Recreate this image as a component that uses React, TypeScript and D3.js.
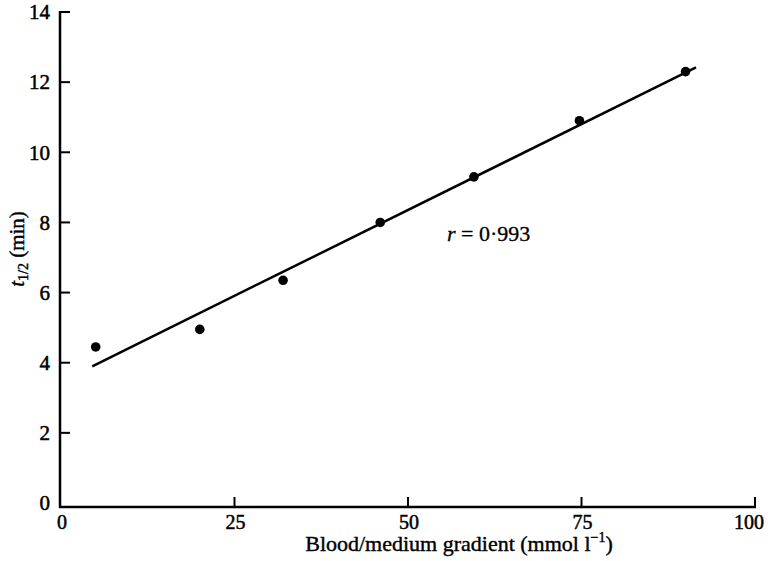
import { scaleLinear, line as d3line, mean, sum } from "d3";

const gradient = [5, 20, 32, 46, 59.5, 74.7, 90];
const halfTime = [4.45, 4.95, 6.35, 8.0, 9.3, 10.9, 12.3];
const xTicks = [0, 25, 50, 75, 100];
const yTicks = [0, 2, 4, 6, 8, 10, 12, 14];
const fitRange = [4.5, 91.5];
const rLabel = "r = 0·993";

const W = 768;
const H = 561;
const font = "'Liberation Serif', 'DejaVu Serif', serif";

export default function App() {
  const x = scaleLinear().domain([0, 100]).range([61, 755]);
  const y = scaleLinear().domain([0, 14]).range([503, 12]);

  // least squares fit through the points
  const mx = mean(gradient) ?? 0;
  const my = mean(halfTime) ?? 0;
  const sxy = sum(gradient.map((g, i) => (g - mx) * (halfTime[i] - my)));
  const sxx = sum(gradient.map((g) => (g - mx) ** 2));
  const slope = sxy / sxx;
  const icpt = my - slope * mx;
  const fit = d3line<number>()
    .x((d) => x(d))
    .y((d) => y(icpt + slope * d));

  const axisY = 507;
  const axisX = 60;
  const last = xTicks[xTicks.length - 1];

  return (
    <svg
      width={W}
      height={H}
      style={{ position: "absolute", left: 0, top: 0, background: "#fff", fontFamily: font }}
    >
      {/* axes */}
      <line x1={axisX} x2={axisX} y1={y(14) - 1} y2={axisY + 1} stroke="#000" strokeWidth={2.5} />
      <line x1={axisX - 1} x2={x(last) + 1} y1={axisY} y2={axisY} stroke="#000" strokeWidth={2.5} />

      {yTicks.map((t) => (
        <g key={t}>
          {t > 0 && (
            <line x1={axisX} x2={axisX + 10} y1={y(t)} y2={y(t)} stroke="#000" strokeWidth={2} />
          )}
          <text
            x={50}
            y={y(t)}
            dy="0.35em"
            textAnchor="end"
            fontSize={21}
            stroke="#000"
            strokeWidth={0.5}
          >
            {t}
          </text>
        </g>
      ))}

      {xTicks.map((t) => (
        <g key={t}>
          {t > 0 && (
            <line x1={x(t)} x2={x(t)} y1={axisY} y2={axisY - 10} stroke="#000" strokeWidth={2} />
          )}
          <text
            x={t === last ? W - 4 : x(t) + 1}
            y={529}
            textAnchor={t === last ? "end" : "middle"}
            fontSize={20}
            stroke="#000"
            strokeWidth={0.5}
          >
            {t}
          </text>
        </g>
      ))}

      {/* regression line */}
      <path d={fit(fitRange) ?? undefined} fill="none" stroke="#000" strokeWidth={2.5} />

      {/* points */}
      {gradient.map((g, i) => (
        <circle key={i} cx={x(g)} cy={y(halfTime[i])} r={4.8} fill="#000" />
      ))}

      <text x={447} y={241} fontSize={22} stroke="#000" strokeWidth={0.3}>
        <tspan fontStyle="italic">{rLabel.slice(0, 1)}</tspan>
        {rLabel.slice(1)}
      </text>

      {/* axis titles */}
      <text
        x={459}
        y={551}
        textAnchor="middle"
        fontSize={22}
        stroke="#000"
        strokeWidth={0.4}
      >
        Blood/medium gradient (mmol l
        <tspan dy={-9} fontSize={14}>−1</tspan>
        <tspan dy={9}>)</tspan>
      </text>

      <text
        transform="translate(24, 249) rotate(-90)"
        textAnchor="middle"
        fontSize={21}
        stroke="#000"
        strokeWidth={0.4}
      >
        <tspan fontStyle="italic">t</tspan>
        <tspan dy={4} fontSize={14}>1/2</tspan>
        <tspan dy={-4}> (min)</tspan>
      </text>
    </svg>
  );
}
